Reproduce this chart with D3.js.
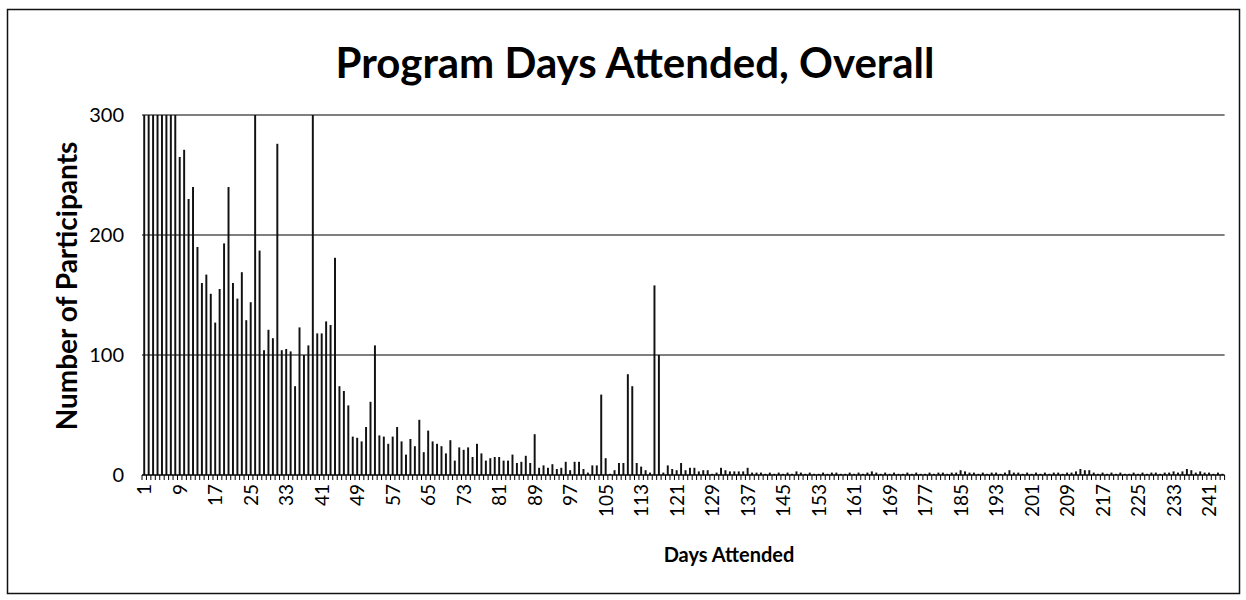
<!DOCTYPE html>
<html>
<head>
<meta charset="utf-8">
<script src="https://cdn.jsdelivr.net/npm/d3@7"></script>
<style>
  html, body { margin: 0; padding: 0; background: #fff; }
  svg { display: block; }
  text { font-family: Lato, "Open Sans", sans-serif; fill: #000; }
</style>
</head>
<body>
<svg id="chart" width="1246" height="600"></svg>
<script>
// Participants by number of program days attended (axis capped at 300)
const days = d3.range(1, 245);
const participants = [
  300, 300, 300, 300, 300, 300, 300, 300, 265, 271,   // 1-10
  230, 240, 190, 160, 167, 151, 127, 155, 193, 240,   // 11-20
  160, 147, 169, 129, 144, 300, 187, 104, 121, 114,   // 21-30
  276, 104, 105, 103, 74, 123, 100, 108, 300, 118,    // 31-40
  118, 128, 125, 181, 74, 70, 58, 32, 31, 28,         // 41-50
  40, 61, 108, 33, 32, 26, 32, 40, 28, 17,            // 51-60
  30, 24, 46, 19, 37, 28, 26, 24, 18, 29,             // 61-70
  12, 23, 21, 23, 15, 26, 18, 12, 14, 15,             // 71-80
  15, 12, 12, 17, 10, 11, 16, 10, 34, 6,              // 81-90
  8, 6, 9, 5, 6, 11, 4, 11, 11, 5,                    // 91-100
  2, 8, 8, 67, 14, 1, 4, 10, 10, 84,                  // 101-110
  74, 10, 7, 4, 2, 158, 100, 2, 8, 5,                 // 111-120
  4, 10, 4, 6, 6, 3, 4, 4, 1, 2,                      // 121-130
  6, 4, 3, 3, 3, 3, 6, 2, 2, 2,                       // 131-140
  1, 2, 1, 2, 1, 2, 1, 3, 2, 1,                       // 141-150
  2, 1, 1, 2, 1, 2, 2, 1, 1, 2,                       // 151-160
  1, 2, 1, 2, 3, 2, 1, 2, 1, 2,                       // 161-170
  1, 1, 2, 1, 2, 1, 1, 2, 1, 2,                       // 171-180
  2, 1, 2, 2, 4, 3, 2, 2, 1, 2,                       // 181-190
  1, 2, 2, 1, 2, 4, 2, 2, 1, 2,                       // 191-200
  1, 2, 1, 2, 1, 2, 2, 1, 2, 2,                       // 201-210
  3, 5, 4, 4, 2, 1, 2, 1, 2, 1,                       // 211-220
  2, 1, 1, 2, 1, 2, 1, 2, 2, 1,                       // 221-230
  2, 2, 3, 2, 3, 5, 4, 2, 3, 2,                       // 231-240
  2, 1, 2, 1                                          // 241-244
];
const yTicks = [0, 100, 200, 300];
const labelEvery = 8;

const svg = d3.select("#chart");
const W = 1246, H = 600;
const plot = { left: 142, right: 1224.6, top: 115, bottom: 475 };

svg.append("rect").attr("width", W).attr("height", H).attr("fill", "#fff");

// outer chart frame
svg.append("rect")
  .attr("x", 7.5).attr("y", 9.5)
  .attr("width", 1232).attr("height", 584)
  .attr("fill", "none").attr("stroke", "#111").attr("stroke-width", 1.5);

const x = d3.scaleBand()
  .domain(days)
  .range([plot.left, plot.right])
  .paddingInner(0.56)
  .paddingOuter(0.28);

const y = d3.scaleLinear()
  .domain([0, 300])
  .range([plot.bottom, plot.top]);

// horizontal gridlines
svg.append("g")
  .selectAll("line")
  .data(yTicks.filter(v => v > 0))
  .join("line")
  .attr("x1", plot.left).attr("x2", plot.right)
  .attr("y1", d => y(d)).attr("y2", d => y(d))
  .attr("stroke", "#000").attr("stroke-width", 1.2);

// bars, clipped at the axis maximum
svg.append("clipPath").attr("id", "plotClip")
  .append("rect")
  .attr("x", plot.left).attr("y", plot.top)
  .attr("width", plot.right - plot.left).attr("height", plot.bottom - plot.top);

svg.append("g")
  .attr("clip-path", "url(#plotClip)")
  .selectAll("rect")
  .data(days)
  .join("rect")
  .attr("x", d => x(d))
  .attr("width", x.bandwidth())
  .attr("y", (d, i) => y(participants[i]))
  .attr("height", (d, i) => y(0) - y(participants[i]))
  .attr("fill", "#111");

// category axis: line plus tick marks on category boundaries
const step = x.step();
const boundaries = d3.range(0, days.length + 1).map(i => plot.left + i * step);
const xAxisG = svg.append("g");
xAxisG.append("line")
  .attr("x1", plot.left).attr("x2", plot.right)
  .attr("y1", plot.bottom).attr("y2", plot.bottom)
  .attr("stroke", "#000").attr("stroke-width", 1.5);
xAxisG.selectAll("line.tick")
  .data(boundaries)
  .join("line")
  .attr("class", "tick")
  .attr("x1", d => d).attr("x2", d => d)
  .attr("y1", plot.bottom).attr("y2", plot.bottom + 5)
  .attr("stroke", "#000").attr("stroke-width", 1);

// category labels, every eighth day, rotated
const xAxis = d3.axisBottom(x)
  .tickValues(days.filter(d => (d - 1) % labelEvery === 0))
  .tickSize(0)
  .tickPadding(0);
const xLab = svg.append("g")
  .attr("transform", `translate(0,${plot.bottom})`)
  .call(xAxis);
xLab.select(".domain").remove();
xLab.selectAll("text")
  .attr("font-size", 19)
  .attr("font-family", "Lato, sans-serif")
  .attr("text-anchor", "end")
  .attr("dy", null)
  .attr("y", 0)
  .attr("transform", "translate(7,9) rotate(-90)");

// value axis labels
const yAxis = d3.axisLeft(y).tickValues(yTicks).tickSize(0).tickPadding(18);
const yLab = svg.append("g")
  .attr("transform", `translate(${plot.left},0)`)
  .call(yAxis);
yLab.select(".domain").remove();
yLab.selectAll("text")
  .attr("font-size", 20)
  .attr("font-family", "Lato, sans-serif");

// titles
svg.append("text")
  .attr("x", 635).attr("y", 78)
  .attr("text-anchor", "middle")
  .attr("font-size", 42).attr("font-weight", 700)
  .text("Program Days Attended, Overall");

svg.append("text")
  .attr("x", 729).attr("y", 562)
  .attr("text-anchor", "middle")
  .attr("font-size", 20).attr("font-weight", 700)
  .text("Days Attended");

svg.append("text")
  .attr("transform", "translate(77,286) rotate(-90)")
  .attr("text-anchor", "middle")
  .attr("font-size", 28).attr("font-weight", 700)
  .text("Number of Participants");
</script>
</body>
</html>
